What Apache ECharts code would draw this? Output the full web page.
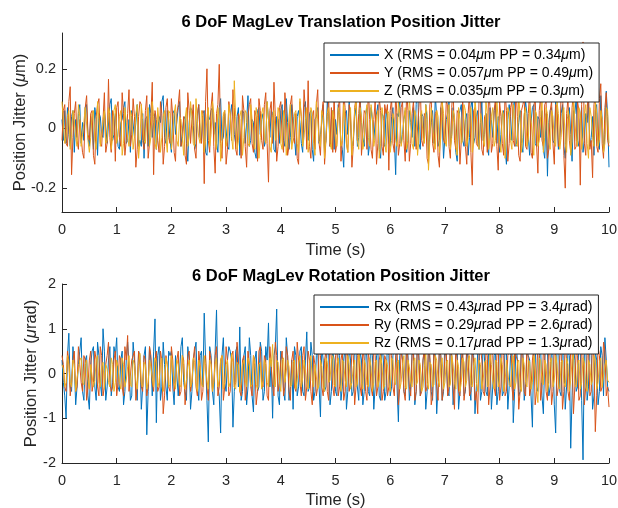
<!DOCTYPE html>
<html>
<head>
<meta charset="utf-8">
<script src="https://cdn.jsdelivr.net/npm/echarts@6/dist/echarts.min.js"></script>
<style>
  html, body { margin: 0; padding: 0; background: #fff; }
  #main { width: 618px; height: 508px; }
</style>
</head>
<body>
<div id="main"></div>
<script>
// sample spacing (s)
var dt = 0.025;

// translation jitter (um)
var xData = [0.03, -0.04, 0.06, -0.05, 0.07, -0.02, -0.06, 0.04, 0.06, -0.08, 0.03, -0.03, 0.05, 0.08, -0.05, 0.02, -0.04, 0.07, 0.08, -0.03,
  -0.06, 0.04, 0.01, -0.07, 0.07, 0.03, -0.09, 0.05, 0.04, -0.02, -0.03, 0.06, 0.06, -0.05, -0.05, 0.08, 0.10, -0.04, -0.02, 0.05,
  0.05, -0.06, -0.07, 0.02, 0.03, 0.07, 0.09, -0.05, -0.04, 0.03, -0.08, 0.06, 0.06, -0.03, 0.02, 0.08, -0.06, -0.04, -0.06, 0.05,
  -0.10, 0.03, 0.04, -0.06, 0.08, 0.05, -0.03, 0.02, 0.05, -0.07, -0.07, 0.04, 0.02, 0.09, 0.11, -0.03, -0.05, 0.06, 0.03, -0.04,
  -0.08, 0.05, 0.06, -0.02, -0.02, 0.07, 0.09, -0.06, -0.06, 0.03, 0.04, -0.05, -0.11, 0.02, 0.07, 0.06, 0.01, -0.07, -0.05, 0.04,
  0.08, -0.03, -0.04, 0.05, 0.06, -0.08, -0.09, 0.04, 0.03, 0.06, 0.07, -0.02, 0.02, -0.05, -0.08, 0.07, 0.10, -0.04, -0.03, 0.05,
  0.05, -0.06, -0.07, 0.03, 0.08, 0.04, -0.02, -0.05, 0.04, 0.07, -0.09, -0.03, 0.06, 0.05, -0.05, 0.02, 0.11, -0.06, -0.04, 0.03,
  0.02, -0.08, -0.10, 0.06, 0.07, -0.02, 0.03, 0.05, -0.06, -0.04, 0.09, 0.03, -0.03, 0.06, 0.05, -0.07, -0.08, 0.04, 0.03, -0.05,
  0.06, 0.08, -0.04, -0.06, 0.10, 0.02, -0.07, -0.03, 0.08, 0.04, -0.03, -0.09, 0.04, 0.06, 0.02, -0.05, -0.08, 0.07, 0.09, -0.02,
  -0.04, 0.05, 0.06, -0.07, -0.11, 0.03, 0.04, 0.07, -0.05, -0.02, 0.02, 0.08, -0.08, -0.04, 0.09, 0.05, -0.06, 0.03, 0.06, -0.07,
  0.03, -0.02, 0.08, 0.04, -0.05, -0.07, -0.13, 0.05, 0.06, -0.02, 0.09, 0.03, -0.07, -0.04, 0.04, 0.07, -0.06, -0.03, 0.10, 0.02,
  -0.03, -0.06, 0.05, 0.07, -0.09, -0.05, 0.07, 0.03, -0.04, 0.02, 0.02, 0.08, -0.07, -0.10, 0.05, 0.04, -0.06, 0.06, 0.03, -0.05,
  -0.06, 0.04, 0.07, -0.03, -0.155, 0.05, 0.04, 0.09, -0.05, -0.02, 0.03, 0.06, -0.08, -0.04, 0.06, 0.02, -0.03, 0.07, -0.06, 0.08,
  0.18, -0.05, -0.07, 0.05, 0.04, -0.04, 0.08, 0.03, -0.09, -0.02, 0.02, 0.06, -0.05, 0.11, 0.04, -0.06, -0.04, 0.07, 0.03, -0.10,
  -0.03, 0.03, 0.05, 0.09, -0.06, -0.02, 0.07, 0.02, -0.08, -0.11, 0.04, 0.06, 0.08, -0.04, -0.06, 0.03, 0.05, -0.09, -0.03, 0.07,
  0.10, -0.05, -0.03, 0.04, 0.06, -0.07, 0.02, 0.09, -0.04, -0.02, 0.05, -0.06, -0.09, 0.07, 0.03, -0.03, 0.06, 0.08, -0.05, 0.04,
  -0.08, -0.02, 0.05, 0.06, -0.07, -0.12, 0.03, 0.08, 0.04, -0.04, 0.07, 0.10, -0.06, -0.03, 0.02, 0.06, -0.05, -0.08, 0.04, 0.09,
  0.05, -0.03, -0.09, 0.02, 0.07, 0.08, -0.05, -0.06, 0.04, 0.03, -0.03, 0.06, -0.07, -0.10, 0.05, -0.16, 0.02, 0.06, 0.07, -0.04,
  -0.05, 0.09, 0.04, -0.07, -0.03, 0.05, 0.08, -0.06, -0.10, 0.03, 0.04, 0.07, -0.02, -0.11, 0.06, 0.05, 0.10, -0.04, -0.06, 0.03,
  0.07, -0.08, -0.04, 0.05, 0.02, 0.09, -0.06, -0.03, 0.04, -0.09, 0.06, 0.08, -0.05, -0.07, 0.11, 0.03, -0.08, -0.02, 0.125, 0.04,
  -0.13];

var yData = [-0.04, 0.06, 0.08, -0.05, -0.06, 0.09, 0.14, -0.155, -0.03, 0.05, 0.09, -0.04, -0.07, 0.03, 0.03, -0.08, -0.10, 0.07, 0.11, -0.02,
  -0.04, 0.05, 0.06, -0.09, -0.12, 0.04, 0.08, 0.10, -0.05, -0.06, 0.03, 0.12, -0.08, -0.05, 0.165, -0.03, -0.08, 0.06, 0.04, -0.11,
  0.07, 0.09, -0.03, -0.06, 0.12, 0.05, -0.09, -0.04, 0.05, 0.13, -0.06, -0.02, 0.10, 0.04, -0.13, -0.07, 0.04, 0.09, 0.08, -0.04,
  -0.07, 0.06, 0.11, -0.10, -0.05, 0.04, 0.155, -0.155, 0.06, 0.03, -0.04, -0.08, 0.09, 0.05, -0.12, -0.06, 0.07, 0.10, -0.03, -0.05,
  0.10, 0.04, -0.08, -0.11, 0.05, 0.08, 0.13, -0.06, -0.04, 0.04, -0.09, -0.12, 0.12, 0.06, -0.05, 0.03, 0.08, -0.07, -0.10, 0.05,
  0.08, -0.03, -0.05, 0.06, -0.185, 0.09, 0.20, -0.04, -0.08, 0.07, 0.12, -0.06, -0.15, 0.05, 0.08, 0.215, -0.05, -0.10, 0.04, 0.06,
  -0.12, -0.07, 0.09, 0.05, -0.04, 0.13, 0.07, -0.07, -0.09, 0.05, 0.03, -0.10, 0.11, 0.06, -0.06, -0.13, 0.04, 0.08, 0.10, -0.05,
  -0.08, 0.06, 0.04, -0.11, 0.10, 0.06, -0.04, -0.07, 0.08, 0.12, -0.05, -0.18, 0.06, 0.09, -0.05, 0.155, 0.04, -0.11, -0.06, 0.07,
  0.09, -0.04, -0.08, 0.12, 0.05, -0.09, -0.06, 0.08, 0.11, -0.03, -0.05, 0.05, -0.10, -0.12, 0.09, 0.04, -0.04, 0.13, 0.06, -0.07,
  0.16, -0.06, -0.10, 0.04, 0.06, -0.07, 0.08, 0.13, -0.05, -0.09, 0.05, 0.09, -0.12, -0.04, 0.04, 0.10, -0.06, 0.07, -0.08, 0.12,
  -0.08, -0.05, 0.06, 0.11, -0.11, -0.04, 0.12, 0.07, -0.05, -0.08, 0.08, 0.04, -0.13, -0.06, 0.07, 0.10, -0.04, 0.05, 0.11, -0.09,
  -0.09, 0.06, 0.05, -0.07, 0.14, 0.03, -0.07, -0.10, 0.03, 0.09, -0.12, -0.05, 0.10, 0.06, -0.06, -0.09, 0.08, 0.05, 0.08, -0.14,
  0.06, 0.10, -0.05, -0.08, 0.12, 0.04, -0.09, -0.05, 0.07, 0.09, -0.04, -0.11, 0.13, 0.06, -0.11, -0.05, 0.05, 0.09, 0.09, -0.07,
  -0.07, 0.07, 0.15, -0.04, -0.06, 0.05, 0.04, -0.10, -0.12, 0.08, 0.10, -0.05, -0.08, 0.05, 0.06, -0.09, -0.13, 0.07, 0.11, -0.04,
  -0.05, 0.09, 0.08, -0.06, -0.10, 0.07, 0.14, -0.04, -0.07, 0.06, 0.05, -0.12, -0.04, 0.09, 0.09, -0.06, -0.12, 0.05, 0.12, -0.08,
  -0.19, 0.06, 0.07, -0.05, -0.06, 0.10, 0.11, -0.07, -0.09, 0.04, 0.05, -0.08, 0.13, 0.07, -0.08, -0.05, 0.06, 0.10, -0.06, -0.14,
  0.09, 0.04, -0.05, -0.09, 0.12, 0.06, -0.11, -0.05, 0.07, 0.09, -0.04, -0.06, 0.15, 0.04, -0.09, -0.11, 0.06, 0.08, 0.10, -0.06,
  -0.07, 0.05, 0.13, -0.08, -0.10, 0.07, 0.11, -0.05, -0.15, 0.06, 0.11, -0.04, -0.06, 0.08, 0.09, -0.10, -0.07, 0.06, 0.09, -0.05,
  -0.12, 0.08, 0.07, -0.06, -0.05, 0.12, 0.14, -0.09, -0.20, 0.05, 0.10, -0.04, -0.08, 0.07, 0.12, -0.07, -0.06, 0.09, 0.06, -0.19,
  0.08, 0.29, -0.05, -0.09, 0.06, 0.13, -0.07, -0.04, -0.165, 0.08, 0.11, -0.06, -0.08, 0.10, 0.15, -0.05, -0.10, 0.07, 0.12, -0.04,
  -0.06];

var zData = [0.09, 0.02, -0.05, -0.03, 0.04, 0.06, -0.07, -0.02, 0.06, 0.03, -0.03, -0.06, 0.08, 0.04, -0.06, -0.02, 0.02, 0.07, 0.07, -0.04,
  -0.08, -0.03, 0.05, 0.06, -0.04, -0.07, 0.09, 0.03, -0.06, -0.02, 0.03, 0.06, -0.05, -0.04, 0.07, 0.05, -0.07, -0.03, 0.06, 0.08,
  -0.05, -0.02, 0.04, 0.06, -0.09, -0.05, 0.07, 0.02, -0.03, -0.06, 0.06, 0.04, -0.07, -0.03, 0.05, 0.08, -0.10, -0.04, 0.08, 0.03,
  -0.04, -0.05, 0.03, 0.07, -0.06, -0.03, 0.09, 0.04, -0.05, -0.07, 0.07, 0.02, -0.08, -0.03, 0.04, 0.06, -0.03, -0.08, 0.06, 0.05,
  -0.07, -0.02, 0.05, 0.08, -0.04, -0.06, 0.04, 0.03, -0.03, -0.09, 0.03, 0.07, -0.06, -0.02, 0.09, 0.04, -0.05, -0.06, 0.10, 0.02,
  -0.03, -0.05, 0.06, 0.04, -0.08, -0.04, 0.04, 0.07, -0.06, -0.02, 0.09, 0.05, -0.04, -0.07, 0.07, 0.03, -0.11, -0.04, 0.05, 0.06,
  -0.06, -0.03, 0.08, 0.05, -0.03, -0.07, 0.16, 0.04, -0.07, -0.04, 0.04, 0.06, -0.09, -0.03, 0.06, 0.05, -0.05, -0.06, 0.08, 0.03,
  -0.04, -0.07, 0.07, 0.04, -0.10, -0.03, 0.05, 0.07, -0.03, -0.05, 0.09, 0.03, -0.06, -0.08, 0.04, 0.06, -0.04, -0.03, 0.07, 0.05,
  -0.05, -0.07, 0.06, 0.03, -0.09, -0.04, 0.04, 0.08, -0.07, -0.03, 0.05, 0.06, -0.05, -0.08, 0.10, 0.04, -0.06, -0.03, 0.03, 0.07,
  -0.08, -0.04, 0.07, 0.05, -0.05, -0.09, 0.09, 0.03, -0.04, -0.06, 0.06, 0.04, -0.10, -0.03, 0.05, 0.07, -0.05, -0.07, 0.06, 0.03,
  -0.03, -0.06, 0.07, 0.05, -0.06, -0.04, 0.08, 0.03, -0.05, -0.08, 0.04, 0.07, -0.09, -0.03, 0.06, 0.09, -0.04, -0.07, 0.07, 0.04,
  -0.07, -0.04, 0.05, 0.08, -0.03, -0.06, 0.08, 0.04, -0.06, -0.03, 0.04, 0.06, -0.10, -0.05, 0.07, 0.03, -0.05, -0.08, 0.06, 0.05,
  -0.08, -0.04, 0.05, 0.03, -0.04, -0.06, 0.09, 0.05, -0.06, -0.03, 0.03, 0.07, -0.07, -0.04, 0.10, 0.04, -0.05, -0.07, 0.06, 0.04,
  -0.09, -0.03, 0.04, 0.06, -0.03, -0.05, 0.08, 0.05, -0.14, -0.04, 0.07, 0.03, -0.05, -0.07, 0.06, 0.04, -0.08, -0.03, 0.09, 0.05,
  -0.04, -0.06, 0.05, 0.08, -0.07, -0.03, 0.06, 0.04, -0.06, -0.09, 0.07, 0.03, -0.05, -0.04, 0.08, 0.06, -0.06, -0.03, 0.04, 0.07,
  -0.08, -0.05, 0.10, 0.04, -0.05, -0.07, 0.05, 0.03, -0.04, -0.06, 0.09, 0.05, -0.07, -0.03, 0.04, 0.07, -0.06, -0.04, 0.09, 0.03,
  -0.05, -0.08, 0.06, 0.04, -0.10, -0.03, 0.07, 0.05, -0.04, -0.07, 0.08, 0.03, -0.05, -0.06, 0.11, 0.04, -0.08, -0.03, 0.05, 0.07,
  -0.06, -0.04, 0.08, 0.03, -0.03, -0.09, 0.06, 0.05, -0.06, -0.04, 0.04, 0.09, -0.08, -0.03, 0.07, 0.05, -0.05, -0.07, 0.06, 0.04,
  -0.04, -0.06, 0.09, 0.05, -0.07, -0.03, 0.05, 0.07, -0.05, -0.08, 0.06, 0.04, -0.09, -0.04, 0.10, 0.03, -0.04, -0.06, 0.07, 0.05,
  -0.07, -0.03, 0.05, 0.08, -0.05, -0.10, 0.07, 0.04, -0.03, -0.06, 0.09, 0.05, -0.06, -0.04, 0.06, 0.03, -0.08, -0.05, 0.07, 0.06,
  -0.05];

// rotation jitter (urad)
var rxData = [0.3, -0.2, -0.5, -1.0, 0.4, 0.9, -0.3, -0.4, 0.6, 0.2, -0.7, -0.3, 0.2, 0.5, 0.8, -0.4, -0.6, 0.3, 0.4, -0.5,
  -0.8, 0.2, 0.5, 0.6, -0.3, -0.6, 0.7, 0.4, -0.2, -0.5, 1.0, 0.5, -0.6, -0.3, 0.3, 0.6, -0.5, -0.2, 0.6, 0.4,
  0.8, -0.3, -0.4, 0.3, 0.5, -0.7, -0.4, 0.3, 0.7, 0.2, -0.6, -0.5, 0.7, 0.3, -0.3, -0.6, 0.5, 0.4, -0.8, -0.3,
  0.4, 0.6, -1.37, -0.4, 0.6, 0.3, -0.5, 0.5, 1.22, -1.1, 0.4, 0.6, -0.6, -0.3, 0.7, 0.2, -0.3, -0.6, 0.5, 0.4,
  0.5, -0.3, -0.7, 0.4, 0.4, -0.5, -0.5, 0.6, 0.8, -0.2, -0.4, -0.6, 0.6, 0.3, -0.8, -0.4, 0.3, 0.5, 0.7, -0.3,
  -0.6, 0.4, 0.5, -0.3, 1.35, 0.3, -0.6, -1.53, 0.6, 0.4, -0.4, -0.7, 0.5, 1.42, -0.3, -0.5, -1.33, 0.4, 0.8, -0.2,
  -0.4, 0.3, 0.6, 0.5, 0.3, -1.2, -0.4, 0.5, 0.6, -0.3, 1.04, -0.6, -0.4, 0.4, 0.6, -0.7, -0.3, 0.8, 0.4, -0.5,
  -0.86, 0.3, 0.5, -0.4, -0.3, 0.7, 0.5, -0.6, -0.4, 0.6, 0.3, 1.13, -0.3, 0.3, -1.0, 0.4, 0.6, 1.44, -0.5, -0.7,
  0.5, 0.3, -0.4, -0.6, 0.8, 0.4, -0.6, -0.3, 0.3, -0.8, 0.6, 0.4, -0.5, -0.3, 0.5, 0.6, -0.4, -0.5, 0.3, 0.93,
  -0.4, -0.3, 0.7, 0.4, -0.6, -0.4, 0.4, 0.5, -0.3, -0.97, 0.6, 0.3, -0.4, -0.3, 0.8, 0.5, -0.7, -0.4, 0.5, 0.3,
  -0.4, -0.5, 0.7, 0.4, -0.6, -0.3, 0.3, 0.6, -0.8, -0.4, 0.6, 0.3, -0.5, -0.4, 0.8, 0.5, -0.3, -0.6, 0.5, 0.3,
  -0.7, -0.4, 0.9, 0.3, -0.4, -0.5, 0.6, 0.4, -0.8, -0.3, 0.4, 0.5, -0.5, -0.6, 0.7, 0.3, -0.6, -0.4, 0.8, 0.4,
  -0.5, -0.3, 0.4, 0.6, 0.7, -0.3, -1.08, 0.4, 0.6, 0.3, -0.4, -0.5, 0.8, 0.4, -0.6, -0.3, 0.5, 0.6, -0.7, -0.4,
  0.9, 0.4, -0.5, -0.3, 0.3, 0.5, -0.8, -0.4, 0.6, 0.3, -0.4, -0.6, 0.7, 0.4, -0.9, -0.3, 0.5, 0.4, -0.6, -0.4,
  0.8, 0.3, -0.4, -0.5, 0.6, 0.4, -0.7, -0.3, 0.4, 0.6, -0.8, -0.4, 0.9, 0.3, -0.5, -0.4, 0.6, 0.3, -0.3, -0.6,
  0.7, 0.4, -0.9, -0.3, 0.5, 0.6, -0.6, -0.4, 0.8, 0.3, -0.4, -0.5, 0.6, 0.4, -0.8, -0.3, 0.4, 0.5, -0.7, -0.4,
  0.9, 0.3, -0.5, -0.4, 0.6, 0.5, -0.8, -0.3, 0.4, 0.6, -1.1, -0.4, 0.7, 0.3, -0.5, -0.4, 0.8, 0.5, -0.6, -0.3,
  0.5, 0.4, 0.3, -0.5, -1.2, 0.6, 0.7, -0.3, -0.4, 0.4, 0.6, -0.5, -0.9, 0.3, 0.8, 0.5, -0.5, -0.3, 0.6, 0.4,
  -0.7, -1.33, 0.6, 0.9, -0.4, -0.5, 0.7, 0.4, -0.8, -0.3, 0.5, 0.4, -1.67, -0.5, 0.6, 0.3, -0.4, -0.3, 0.8, 0.5,
  -0.6, -1.93, 0.5, 0.7, -0.6, -0.3, 0.9, 0.4, -0.8, -0.5, 0.5, 0.3, -0.7, -0.4, 0.6, 0.4, -0.5, 0.8, 0.3, -0.3,
  -0.4];

var ryData = [0.4, 0.2, -0.3, -0.4, 0.5, 0.3, -0.5, -0.2, 0.3, 0.5, -0.4, -0.3, 0.6, 0.2, -0.2, -0.4, 0.4, 0.3, -0.6, -0.3,
  0.3, 0.5, -0.4, -0.2, 0.5, 0.3, -0.3, -0.5, 0.6, 0.4, -0.5, -0.3, 0.2, 0.4, 0.7, -0.2, -0.4, -0.3, 0.3, 0.5,
  -0.5, -0.2, 0.4, 0.3, -0.3, -0.5, 0.6, 0.3, 0.85, -0.4, -0.4, 0.3, 0.3, 0.5, -0.6, -0.3, 0.5, 0.2, -0.3, -0.4,
  0.4, 0.3, -0.5, -0.3, 0.6, 0.4, -0.2, -0.4, 0.3, 0.5, -0.4, -0.3, 0.5, 0.3, -0.9, -0.5, 0.4, 0.2, -0.3, -0.4,
  0.6, 0.3, -0.4, -0.2, 0.3, 0.5, -0.5, -0.4, 0.4, 0.3, -0.7, -0.3, 0.4, 0.5, -0.4, -0.2, 0.3, 0.6, -0.3, -0.5,
  0.5, 0.2, -0.6, -0.4, 0.3, 0.4, -0.3, -0.6, 0.5, 0.3, -0.4, -0.2, 0.4, 0.6, -0.5, -0.3, 0.3, 0.4, -0.6, -0.3,
  0.6, 0.3, -0.5, -0.4, 0.4, 0.5, -0.3, -0.2, 0.7, 0.3, -0.4, -0.5, 0.3, 0.4, -0.6, -0.3, 0.5, 0.2, -0.3, -0.5,
  0.4, 0.3, -0.7, -0.4, 0.5, 0.6, -0.2, -0.3, 0.4, 0.3, -0.5, -0.6, 0.6, 0.2, -0.3, -0.5, 0.7, 0.4, -0.4, -0.2,
  0.3, 0.5, -0.5, -0.3, 0.6, 0.4, -0.4, -0.6, 0.3, 0.5, -0.3, -0.4, 0.7, 0.3, -0.2, -0.5, 0.4, 0.6, -0.6, -0.3,
  0.5, 0.3, -0.4, -0.7, 0.4, 0.2, -0.5, -0.3, 0.6, 0.4, -0.3, -0.5, 0.3, 0.5, -0.4, -0.6, 0.8, 0.3, -0.3, -0.5,
  0.4, 0.6, -0.5, -0.3, 0.3, 0.5, -0.6, -0.4, 0.7, 0.3, -0.4, -0.2, 0.5, 0.4, -0.7, -0.3, 0.4, 0.6, -0.3, -0.5,
  0.6, 0.3, -0.4, -0.6, 0.5, 0.2, -0.3, -0.5, 0.8, 0.4, -0.5, -0.3, 0.3, 0.5, -0.6, -0.4, 0.4, 0.3, -0.5, -0.3,
  0.6, 0.4, -0.3, -0.5, 0.4, 0.6, -0.7, -0.3, 0.5, 0.3, -0.4, -0.6, 0.7, 0.3, -0.3, -0.5, 0.4, 0.5, -0.6, -0.4,
  0.9, 0.3, -0.5, -0.4, 0.3, 0.6, -0.4, -0.3, 0.6, 0.4, -0.7, -0.5, 0.5, 0.3, -0.3, -0.6, 0.8, 0.4, -0.6, -0.3,
  0.4, 0.5, -0.5, -0.3, 0.7, 0.4, -0.3, -0.8, 0.6, 0.3, -0.4, -0.5, 0.3, 0.6, -0.6, -0.3, 0.7, 0.4, -0.5, -0.4,
  0.5, 0.3, -0.6, -0.4, -0.9, 0.5, 0.6, 0.3, -0.4, -0.5, 0.5, 0.4, -0.7, -0.3, 0.8, 0.4, -0.3, -0.5, 0.4, 0.6,
  -0.6, -0.3, 0.7, 0.4, -0.5, -0.4, 0.4, 0.5, 1.3, -0.3, -0.6, 0.5, 0.5, 0.3, -0.8, -0.4, 0.6, 0.4, -0.4, -0.5,
  0.7, 0.3, -0.5, -0.3, 0.3, 0.6, -0.7, -0.4, 0.8, 0.4, -0.6, -0.3, 0.5, 0.4, -0.4, -0.6, 0.9, 0.3, -0.7, -0.4,
  0.6, 0.4, -0.5, -0.3, 0.4, 0.5, -0.8, -0.4, 0.7, 0.3, -0.4, -0.6, 0.6, 0.5, -0.9, -0.3, 0.5, 0.4, -0.6, -0.5,
  0.8, 0.4, -0.7, -0.3, 0.4, 0.6, -0.5, -0.4, 0.9, 0.3, -1.3, -0.5, 0.6, 0.4, -0.4, -0.3, 0.7, 0.5, -0.5, -0.3,
  -0.75];

var rzData = [0.2, 0.1, -0.3, -0.2, 0.4, 0.2, -0.2, -0.3, 0.3, 0.2, -0.4, -0.1, 0.1, 0.3, 0.35, -0.2, -0.25, 0.2, 0.3, -0.15,
  -0.35, 0.2, 0.2, -0.3, -0.15, 0.3, 0.4, -0.2, -0.3, 0.15, 0.25, -0.35, 0.2, 0.1, -0.2, -0.3, 0.35, 0.2, -0.4, -0.2,
  0.3, 0.15, -0.2, -0.35, 0.35, 0.2, -0.3, -0.15, 0.15, 0.4, -0.25, -0.3, 0.3, 0.2, -0.15, -0.35, 0.2, 0.45, -0.2, -0.3,
  0.25, 0.2, -0.35, -0.2, 0.3, 0.15, -0.1, -0.3, 0.35, 0.25, -0.3, -0.2, 0.2, 0.35, -0.4, -0.15, 0.35, 0.2, -0.3, -0.25,
  0.4, 0.15, -0.2, -0.35, 0.3, 0.2, -0.25, -0.3, 0.4, 0.2, -0.35, -0.15, 0.15, 0.3, -0.3, -0.2, 0.35, 0.25, -0.2, -0.4,
  0.3, 0.15, -0.25, -0.3, 0.4, 0.2, -0.15, -0.35, 0.3, 0.2, -0.4, -0.2, 0.2, 0.35, -0.3, -0.15, 0.3, 0.4, -0.35, -0.2,
  0.2, 0.3, -0.3, -0.2, 0.45, 0.25, -0.3, -0.35, 0.25, 0.2, -0.4, -0.2, 0.2, 0.3, -0.15, -0.3, 0.35, 0.2, -0.3, -0.25,
  0.4, 0.2, -0.25, -0.35, 0.2, 0.25, -0.35, -0.15, 0.3, 0.2, -0.2, -0.3, 0.35, 0.15, 0.65, -0.25, -0.3, 0.3, 0.25, -0.2,
  -0.4, 0.3, 0.35, -0.2, -0.2, 0.3, 0.15, -0.3, -0.25, 0.25, 0.3, -0.35, -0.15, 0.2, 0.4, -0.3, -0.1, 0.3, 0.3, -0.2,
  -0.35, 0.25, 0.4, -0.15, -0.3, 0.2, 0.2, -0.35, -0.25, 0.3, 0.15, -0.3, -0.4, 0.35, 0.25, -0.2, -0.15, 0.3, 0.4, -0.25,
  -0.3, 0.2, 0.35, -0.2, -0.4, 0.3, 0.25, -0.15, -0.3, 0.4, 0.2, -0.35, -0.2, 0.15, 0.3, -0.3, -0.25, 0.45, 0.2, -0.2,
  -0.35, 0.3, 0.2, -0.25, -0.3, 0.35, 0.15, -0.4, -0.2, 0.25, 0.3, -0.3, -0.15, 0.4, 0.2, -0.35, -0.25, 0.3, 0.2, -0.2,
  -0.4, 0.35, 0.3, -0.15, -0.25, 0.25, 0.3, -0.35, -0.2, 0.2, 0.4, -0.3, -0.35, 0.3, 0.15, -0.2, -0.3, 0.25, 0.35, -0.25,
  -0.2, 0.3, 0.2, -0.4, -0.3, 0.15, 0.45, -0.2, -0.35, 0.25, 0.2, -0.3, -0.25, 0.4, 0.3, -0.15, -0.3, 0.2, 0.35, -0.35,
  -0.2, 0.25, 0.3, -0.3, -0.25, 0.4, 0.2, -0.2, -0.35, 0.3, 0.15, -0.4, -0.2, 0.35, 0.25, -0.3, -0.15, 0.3, 0.4, -0.25,
  -0.3, 0.2, 0.35, -0.2, -0.4, 0.3, 0.2, -0.35, -0.15, 0.25, 0.3, -0.3, -0.25, 0.45, 0.2, -0.2, -0.35, 0.3, 0.25, -0.3,
  -0.15, 0.35, 0.2, -0.4, -0.2, 0.3, 0.3, -0.25, -0.3, 0.2, 0.4, -0.35, -0.2, 0.25, 0.3, -0.3, -0.4, 0.35, 0.2, -0.2,
  -0.3, 0.3, 0.25, -0.35, -0.2, 0.4, 0.15, -0.3, -0.65, 0.35, 0.3, -0.2, -0.25, 0.3, 0.2, -0.4, -0.2, 0.25, 0.35, -0.3,
  -0.15, 0.4, 0.2, -0.3, -0.35, 0.25, 0.3, -0.2, -0.3, 0.35, 0.2, -0.4, -0.15, 0.3, 0.45, -0.25, -0.3, 0.2, 0.3, -0.35,
  -0.2, 0.35, 0.25, -0.3, -0.4, 0.3, 0.2, -0.25, -0.15, 0.4, 0.3, -0.35, -0.2, 0.25, 0.35, -0.3, -0.3, 0.2, 0.3, -0.15,
  -0.2];

var transNames = ['X (RMS = 0.04μm PP = 0.34μm)', 'Y (RMS = 0.057μm PP = 0.49μm)', 'Z (RMS = 0.035μm PP = 0.3μm)'];
var rotNames = ['Rx (RMS = 0.43μrad PP = 3.4μrad)', 'Ry (RMS = 0.29μrad PP = 2.6μrad)', 'Rz (RMS = 0.17μrad PP = 1.3μrad)'];
var colors = ['#0072BD', '#D95319', '#EDB120'];
var transTicks = [-0.2, 0, 0.2];

var font = 'Liberation Sans, Arial, Helvetica, sans-serif';
var ink = '#262626';

function pairs(arr) {
  return arr.map(function (v, i) { return [+(i * dt).toFixed(3), v]; });
}

function mu(s) {
  return s.replace(/μ/g, '{i|μ}');
}

function xAxis(idx, gap) {
  return {
    type: 'value', gridIndex: idx, min: 0, max: 10, interval: 1,
    name: 'Time (s)', nameLocation: 'middle', nameGap: gap,
    nameTextStyle: { color: ink, fontSize: 16.5, fontFamily: font },
    axisLine: { onZero: false, lineStyle: { color: ink, width: 1 } },
    axisTick: { inside: true, length: 5, lineStyle: { color: ink } },
    axisLabel: { color: ink, fontSize: 14.5, fontFamily: font, margin: 10 },
    splitLine: { show: false }
  };
}

function legend(names, left, top) {
  return {
    data: names, left: left, top: top,
    orient: 'vertical', itemWidth: 49, itemHeight: 14, itemGap: 4,
    backgroundColor: '#fff', borderColor: ink, borderWidth: 1, borderRadius: 0, padding: [5, 6, 4, 5],
    itemStyle: { color: 'rgba(0,0,0,0)', borderColor: 'rgba(0,0,0,0)', borderWidth: 0 },
    textStyle: { color: '#000', fontSize: 14, fontFamily: font,
      rich: { i: { fontStyle: 'italic', fontSize: 14, fontFamily: font, color: '#000' } } },
    formatter: mu
  };
}

function lineSeries(name, data, color, axisIdx) {
  return {
    name: name, type: 'line', xAxisIndex: axisIdx, yAxisIndex: axisIdx,
    data: pairs(data), showSymbol: false, symbol: 'none',
    lineStyle: { color: color, width: 1 }, itemStyle: { color: color }
  };
}

var myChart = echarts.init(document.getElementById('main'));

option = {
  animation: false,
  backgroundColor: '#fff',
  title: [
    { text: '6 DoF MagLev Translation Position Jitter', left: 336, top: 9, textAlign: 'center',
      textStyle: { fontSize: 16.5, fontWeight: 'bold', color: '#000', fontFamily: font } },
    { text: '6 DoF MagLev Rotation Position Jitter', left: 336, top: 263, textAlign: 'center',
      textStyle: { fontSize: 16.5, fontWeight: 'bold', color: '#000', fontFamily: font } }
  ],
  grid: [
    { left: 62, right: 9, top: 33, height: 179, outerBoundsMode: 'none' },
    { left: 62, right: 9, top: 284, height: 179, outerBoundsMode: 'none' }
  ],
  xAxis: [xAxis(0, 30), xAxis(1, 29)],
  yAxis: [
    {
      type: 'value', gridIndex: 0, min: -0.28, max: 0.32,
      name: 'Position Jitter ({i|μ}m)', nameLocation: 'middle', nameGap: 33, nameMoveOverlap: false,
      nameTextStyle: { color: ink, fontSize: 16.5, fontFamily: font, rich: { i: { fontStyle: 'italic', fontSize: 16.5, fontFamily: font, color: ink } } },
      axisLine: { show: true, onZero: false, lineStyle: { color: ink } },
      axisTick: { show: true, inside: true, length: 5, customValues: transTicks, lineStyle: { color: ink } },
      axisLabel: { color: ink, fontSize: 14.5, fontFamily: font, margin: 6, customValues: transTicks },
      splitLine: { show: false }
    },
    {
      type: 'value', gridIndex: 1, min: -2, max: 2, interval: 1,
      name: 'Position Jitter ({i|μ}rad)', nameLocation: 'middle', nameGap: 22, nameMoveOverlap: false,
      nameTextStyle: { color: ink, fontSize: 16.5, fontFamily: font, rich: { i: { fontStyle: 'italic', fontSize: 16.5, fontFamily: font, color: ink } } },
      axisLine: { show: true, onZero: false, lineStyle: { color: ink } },
      axisTick: { show: true, inside: true, length: 5, lineStyle: { color: ink } },
      axisLabel: { color: ink, fontSize: 14.5, fontFamily: font, margin: 6 },
      splitLine: { show: false }
    }
  ],
  legend: [legend(transNames, 324, 43), legend(rotNames, 314, 295)],
  series: [
    lineSeries(transNames[0], xData, colors[0], 0),
    lineSeries(transNames[1], yData, colors[1], 0),
    lineSeries(transNames[2], zData, colors[2], 0),
    lineSeries(rotNames[0], rxData, colors[0], 1),
    lineSeries(rotNames[1], ryData, colors[1], 1),
    lineSeries(rotNames[2], rzData, colors[2], 1)
  ]
};

myChart.setOption(option);
</script>
</body>
</html>
